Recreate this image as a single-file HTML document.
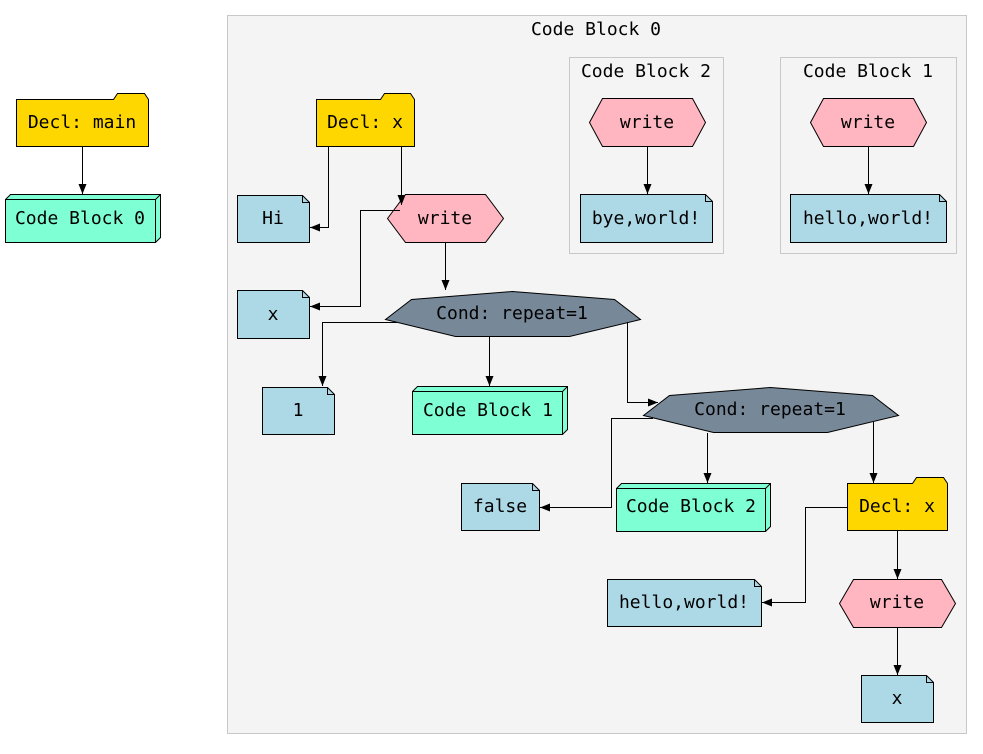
<!DOCTYPE html>
<html><head><meta charset="utf-8"><style>
html,body{margin:0;padding:0;background:#fff;}
svg text{font-family:"DejaVu Sans Mono","Liberation Mono",monospace;font-size:18px;fill:#000;}
</style></head><body>
<svg width="983" height="749" viewBox="0 0 983 749" xmlns="http://www.w3.org/2000/svg">
<defs>
<marker id="a" markerWidth="10" markerHeight="8" refX="10" refY="4" orient="auto" markerUnits="userSpaceOnUse">
<path d="M0,0 L10,4 L0,8 Z" fill="#000"/>
</marker>
</defs>
<g stroke="#000" stroke-width="1">
<rect x="227.5" y="15.5" width="739" height="718" fill="#f4f4f4" stroke="#c8c8c8"/>
<rect x="569.5" y="57.5" width="154" height="196" fill="#f4f4f4" stroke="#c8c8c8"/>
<rect x="780.5" y="57.5" width="176" height="196" fill="#f4f4f4" stroke="#c8c8c8"/>

<path d="M16.5,99.5 H113.5 L117.5,93.5 H144.5 L148.5,99.5 V146.5 H16.5 Z" fill="#ffd700"/>
<path d="M5.5,199.5 L10.5,194.5 H160.5 V237.5 L155.5,242.5 H5.5 Z" fill="#7fffd4"/>
<path d="M5.5,199.5 H155.5 L160.5,194.5 M155.5,199.5 V242.5" fill="none"/>

<polygon points="589.5,122.5 602.5,98.5 692.5,98.5 705.5,122.5 692.5,146.5 602.5,146.5" fill="#ffb6c1"/>
<path d="M580.5,194.5 H705.5 L712.5,201.5 V242.5 H580.5 Z" fill="#add8e6"/><path d="M705.5,194.5 V201.5 H712.5" fill="none"/>
<polygon points="810.5,122.5 823.5,98.5 913.5,98.5 926.5,122.5 913.5,146.5 823.5,146.5" fill="#ffb6c1"/>
<path d="M790.5,194.5 H939.5 L946.5,201.5 V242.5 H790.5 Z" fill="#add8e6"/><path d="M939.5,194.5 V201.5 H946.5" fill="none"/>

<path d="M316.5,99.5 H380.5 L384.5,93.5 H410.5 L414.5,99.5 V146.5 H316.5 Z" fill="#ffd700"/>
<path d="M237.5,195.5 H302.5 L309.5,202.5 V242.5 H237.5 Z" fill="#add8e6"/><path d="M302.5,195.5 V202.5 H309.5" fill="none"/>
<polygon points="387.5,218.5 405.5,194.5 485.5,194.5 503.5,218.5 485.5,242.5 405.5,242.5" fill="#ffb6c1"/>
<path d="M237.5,290.5 H302.5 L309.5,297.5 V338.5 H237.5 Z" fill="#add8e6"/><path d="M302.5,290.5 V297.5 H309.5" fill="none"/>
<polygon points="385.5,319.5 411.5,299.5 512.5,291.5 614.5,299.5 640.5,319.5 569.5,336.5 455.5,336.5" fill="#778899"/>
<path d="M262.5,387.5 H327.5 L334.5,394.5 V434.5 H262.5 Z" fill="#add8e6"/><path d="M327.5,387.5 V394.5 H334.5" fill="none"/>
<path d="M412.5,391.5 L417.5,386.5 H567.5 V429.5 L562.5,434.5 H412.5 Z" fill="#7fffd4"/>
<path d="M412.5,391.5 H562.5 L567.5,386.5 M562.5,391.5 V434.5" fill="none"/>
<polygon points="643.5,415.5 669.5,395.5 770.5,387.5 872.5,395.5 898.5,415.5 827.5,432.5 713.5,432.5" fill="#778899"/>
<path d="M461.5,483.5 H532.5 L539.5,490.5 V530.5 H461.5 Z" fill="#add8e6"/><path d="M532.5,483.5 V490.5 H539.5" fill="none"/>
<path d="M616.5,488.5 L621.5,483.5 H770.5 V526.5 L765.5,531.5 H616.5 Z" fill="#7fffd4"/>
<path d="M616.5,488.5 H765.5 L770.5,483.5 M765.5,488.5 V531.5" fill="none"/>
<path d="M847.5,483.5 H912.5 L916.5,477.5 H943.5 L947.5,483.5 V530.5 H847.5 Z" fill="#ffd700"/>
<path d="M607.5,579.5 H754.5 L761.5,586.5 V626.5 H607.5 Z" fill="#add8e6"/><path d="M754.5,579.5 V586.5 H761.5" fill="none"/>
<polygon points="839.5,603.5 853.5,579.5 941.5,579.5 955.5,603.5 941.5,627.5 853.5,627.5" fill="#ffb6c1"/>
<path d="M861.5,675.5 H926.5 L933.5,682.5 V722.5 H861.5 Z" fill="#add8e6"/><path d="M926.5,675.5 V682.5 H933.5" fill="none"/>
</g>

<g stroke="#000" stroke-width="1" fill="none" marker-end="url(#a)">
<path d="M82.5,147 V194"/>
<path d="M647.5,147 V194"/>
<path d="M868.5,147 V194"/>
<path d="M328.5,147 V227.5 H310"/>
<path d="M401.5,147 V205"/>
<path d="M400,210.5 H360.5 V306.5 H310"/>
<path d="M445.5,243 V290"/>
<path d="M397,322.5 H322.5 V386"/>
<path d="M489.5,337 V386"/>
<path d="M627.5,322 V402.5 H658"/>
<path d="M653,418.5 H611.5 V507.5 H540"/>
<path d="M707.5,433 V483"/>
<path d="M873.5,422 V483"/>
<path d="M847,507.5 H805.5 V602.5 H762"/>
<path d="M897.5,531 V579"/>
<path d="M897.5,628 V675"/>
</g>

<g text-anchor="middle">
<text x="596" y="35">Code Block 0</text>
<text x="646" y="77">Code Block 2</text>
<text x="868" y="77">Code Block 1</text>
<text x="82" y="128">Decl: main</text>
<text x="80" y="224">Code Block 0</text>
<text x="647" y="128">write</text>
<text x="646" y="224">bye,world!</text>
<text x="868" y="128">write</text>
<text x="868" y="224">hello,world!</text>
<text x="365" y="128">Decl: x</text>
<text x="273" y="224">Hi</text>
<text x="445" y="224">write</text>
<text x="273" y="320">x</text>
<text x="512" y="319">Cond: repeat=1</text>
<text x="298" y="416">1</text>
<text x="488" y="416">Code Block 1</text>
<text x="770" y="415">Cond: repeat=1</text>
<text x="500" y="512">false</text>
<text x="691" y="512">Code Block 2</text>
<text x="897" y="512">Decl: x</text>
<text x="684" y="608">hello,world!</text>
<text x="897" y="608">write</text>
<text x="897" y="704">x</text>
</g>
</svg>
</body></html>
